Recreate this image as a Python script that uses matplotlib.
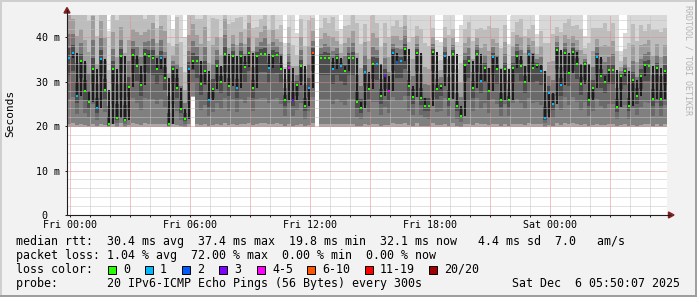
import numpy as np
import matplotlib
matplotlib.use("Agg")
import matplotlib.pyplot as plt
from matplotlib.patches import Rectangle, Polygon
from matplotlib.lines import Line2D

plt.rcParams["lines.scale_dashes"] = False
nan = float("nan")

# ---------------- data ----------------
step_minutes = 12            # one column = 12 minutes, 150 columns = 30 h (Thu 23:50 .. Sat 05:50)

median_ms = [
    35.4, 36.5, 26.9, 34.6, 27.9, 25.4, 32.8, 24.0, 35.2, 28.1,
    20.4, 32.8, 21.9, 35.9, 21.5, 28.8, 36.1, 33.5, 29.2, 36.3,
    35.8, 35.4, 32.8, 35.4, 30.9, 20.4, 32.8, 28.6, 23.9, 21.6,
    32.8, 34.6, 34.6, 29.4, 32.4, 25.8, 28.4, 33.5, 29.9, 36.3,
    29.0, 35.8, 28.5, 35.8, 33.3, 36.5, 28.6, 35.8, 36.3, 36.3,
    33.1, 35.8, 36.0, 32.9, 26.0, 33.1, 26.0, 29.2, 33.5, 24.5,
    28.7, 36.5, nan, 35.4, 35.4, 35.4, 32.8, 35.4, 33.5, 32.4,
    35.4, 35.4, 25.4, 24.1, 32.2, 28.3, 34.1, 34.0, 26.8, 31.3,
    28.0, 36.5, 34.4, 34.6, 37.3, 29.0, 26.6, 36.5, 26.4, 24.5,
    24.5, 36.7, 28.3, 29.0, 35.9, 26.2, 36.3, 24.5, 22.4, 33.7,
    34.6, 28.6, 36.3, 30.1, 33.1, 28.0, 35.5, 32.8, 25.8, 32.8,
    25.8, 33.1, 35.8, 33.5, 29.9, 36.3, 33.1, 33.7, 32.4, 21.9,
    27.5, 25.0, 37.1, 29.2, 36.5, 32.0, 36.7, 34.1, 29.4, 33.9,
    26.0, 28.6, 35.5, 31.4, 29.9, 32.6, 32.6, 24.3, 31.3, 32.4,
    24.5, 30.4, 26.8, 31.3, 33.7, 33.5, 26.2, 33.1, 26.2, 32.4,
]

# largest ping of each column (values above ~45 run off the top of the chart)
max_ms = [
    62, 58, 64, 55, 60, 57, 66, 52, 59, 61,
    41.5, 56, 60, 54, 63, 58, 52, 55, 61, 50,
    53, 57, 49, 55, 60, 52, 41.8, 56, 50, 40.0,
    54, 58, 51, 55, 60, 49, 56, 52, 47, 58,
    53, 49, 56, 51, 48, 55, 52, 47, 50, 54,
    48, 52, 46, 50, 38.8, 49, 47, 41.0, 52, 48,
    55, 50, nan, 47, 51, 49, 53, 46, 42.0, 50,
    48, 52, 56, 49, 51, 47, 53, 50, 46, 52,
    49, 47, 51, 48, 52, 46, 50, 47, 53, 49,
    48, 46, 39.5, 39.0, 47, 51, 46, 39.0, 42.8, 48,
    50, 47, 46, 51, 48, 53, 47, 49, 46, 50,
    38.5, 47, 49, 52, 48, 46, 50, 40.7, 48, 51,
    47, 52, 46, 50, 48, 53, 47, 49, 51, 40.3,
    48, 52, 47, 50, 53, 48, 51, 46, 37.0, 41.0,
    49, 52, 48, 51, 47, 50, 53, 48, 52, 49,
]

# smallest ping of each column
min_ms = [
    19.8, 19.8, 19.9, 19.8, 19.8, 19.8, 19.9, 19.8, 19.8, 19.8,
    19.8, 19.8, 19.8, 19.9, 19.8, 19.8, 19.8, 19.8, 19.9, 19.8,
    19.8, 19.8, 19.8, 19.8, 19.9, 19.8, 19.8, 19.8, 19.8, 19.8,
    19.8, 26.5, 19.8, 19.8, 19.8, 19.8, 19.9, 19.8, 19.8, 19.8,
    19.8, 19.8, 19.8, 19.8, 19.9, 19.8, 19.8, 19.8, 19.8, 19.8,
    19.8, 19.8, 19.9, 19.8, 19.8, 19.8, 19.8, 19.8, 19.8, 19.8,
    19.8, 19.8, nan, 19.8, 19.8, 19.8, 19.8, 19.8, 19.9, 19.8,
    19.8, 19.8, 19.8, 19.8, 19.8, 19.8, 19.8, 19.9, 19.8, 19.8,
    19.8, 19.8, 19.8, 19.8, 19.8, 19.8, 19.8, 19.8, 19.8, 19.9,
    19.8, 19.8, 19.8, 19.8, 19.8, 19.8, 19.8, 19.8, 19.8, 19.8,
    19.8, 19.8, 19.8, 19.9, 19.8, 19.8, 19.8, 19.8, 19.8, 19.8,
    19.8, 19.8, 19.8, 19.8, 19.8, 19.8, 19.8, 19.8, 19.8, 19.8,
    19.9, 19.8, 19.8, 19.8, 19.8, 19.8, 19.8, 19.8, 19.8, 19.8,
    19.8, 19.8, 19.8, 19.8, 19.8, 19.8, 19.8, 19.8, 19.8, 19.8,
    19.8, 19.8, 19.8, 19.8, 19.8, 19.8, 19.8, 19.8, 19.8, 19.8,
]

# loss class of each column (index into loss_labels)
loss_class = [
    1, 1, 1, 0, 0, 0, 0, 1, 1, 0,
    0, 0, 0, 0, 0, 0, 0, 0, 0, 0,
    0, 0, 0, 1, 0, 0, 0, 0, 0, 0,
    1, 0, 0, 0, 0, 1, 0, 0, 0, 0,
    0, 0, 1, 0, 0, 0, 0, 0, 0, 0,
    1, 0, 0, 0, 0, 4, 3, 0, 0, 0,
    1, 5, 0, 0, 0, 0, 1, 0, 1, 0,
    0, 0, 0, 0, 1, 0, 0, 1, 0, 3,
    4, 1, 2, 1, 0, 0, 0, 0, 0, 0,
    0, 0, 0, 0, 1, 0, 0, 0, 0, 0,
    0, 0, 0, 1, 0, 0, 1, 0, 0, 0,
    0, 0, 0, 0, 0, 1, 0, 0, 1, 1,
    1, 1, 0, 1, 0, 0, 0, 0, 0, 0,
    0, 0, 1, 0, 0, 0, 0, 0, 0, 0,
    0, 0, 0, 0, 0, 0, 0, 0, 0, 0,
]

loss_labels = ["0", "1", "2", "3", "4-5", "6-10", "11-19", "20/20"]
loss_colors = ["#26ff00", "#00b8ff", "#0059ff", "#7e00ff", "#ff00ff",
               "#ff5500", "#ff0000", "#a10000"]

y_ticks = [0, 10, 20, 30, 40]
y_tick_labels = ["0  ", "10 m", "20 m", "30 m", "40 m"]
x_label_text = ["Fri 00:00", "Fri 06:00", "Fri 12:00", "Fri 18:00", "Sat 00:00"]
first_midnight_h = 10 / 60      # Fri 00:00 is 10 minutes after the graph start

legend_lines = [
    "median rtt:  30.4 ms avg  37.4 ms max  19.8 ms min  32.1 ms now   4.4 ms sd  7.0   am/s",
    "packet loss: 1.04 % avg  72.00 % max  0.00 % min  0.00 % now",
]
probe_text = "probe:       20 IPv6-ICMP Echo Pings (56 Bytes) every 300s"
stamp_text = "Sat Dec  6 05:50:07 2025"

# ---------------- figure ----------------
W, H = 697, 297
BG = "#f2f2f2"
fig = plt.figure(figsize=(W / 100, H / 100), dpi=100, facecolor=BG)


def fx(px):
    return px / W


def fy(py):
    return 1 - py / H


MONO = "DejaVu Sans Mono"

ax = fig.add_axes([fx(67), fy(215), 600 / W, 200 / H])
ax.set_facecolor("white")
for s in ax.spines.values():
    s.set_visible(False)

med = np.array(median_ms, dtype=float)
top = np.array(max_ms, dtype=float)
low = np.array(min_ms, dtype=float)
loss = np.array(loss_class)
n = len(med)
step_h = step_minutes / 60.0
x0 = np.arange(n) * step_h
ok = ~np.isnan(med)

# smoke: shaded bands between min .. median .. max (lighter = further from median)
below = [(0.00, 0.05, "#a9a9a9"), (0.05, 0.40, "#808080"),
         (0.40, 0.75, "#6a6a6a"), (0.75, 1.00, "#4c4c4c")]
above = [(0.00, 0.08, "#4c4c4c"), (0.08, 0.20, "#777777"),
         (0.20, 0.36, "#9e9e9e"), (0.36, 0.58, "#bdbdbd"),
         (0.58, 1.00, "#d8d8d8")]
for a, b, c in below:
    lo = low + a * (med - low)
    hi = low + b * (med - low)
    ax.bar(x0[ok], (hi - lo)[ok], bottom=lo[ok], width=step_h, align="edge",
           color=c, linewidth=0, antialiased=False, zorder=1)
for a, b, c in above:
    lo = med + a * (top - med)
    hi = med + b * (top - med)
    ax.bar(x0[ok], (hi - lo)[ok], bottom=lo[ok], width=step_h, align="edge",
           color=c, linewidth=0, antialiased=False, zorder=1)

# dark core between successive medians
prev = np.concatenate([[med[0]], med[:-1]])
prev = np.where(np.isnan(prev), med, prev)
core_lo = np.minimum(prev, med)
core_hi = np.maximum(prev, med)
ax.bar((x0 + step_h * 0.5)[ok], (core_hi - core_lo)[ok], bottom=core_lo[ok],
       width=step_h * 0.5, align="center", color="#1c1c1c", linewidth=0,
       antialiased=False, zorder=1.5)

# median markers coloured by loss
xc = x0 + step_h / 2
cols = [loss_colors[k] for k in loss[ok]]
ax.hlines(med[ok], (xc - step_h * 0.36)[ok], (xc + step_h * 0.36)[ok],
          colors=cols, linewidth=1.5, zorder=5)

# axes scales, grid
ax.set_xlim(0, n * step_h)
ax.set_ylim(0, 200 / 4.44)
major_x = [first_midnight_h + 3 * k for k in range(10)]
minor_x = [first_midnight_h + k for k in range(30)]
ax.set_xticks(major_x)
ax.set_xticks(minor_x, minor=True)
lab = []
for k in range(10):
    lab.append(x_label_text[k // 2] if k % 2 == 0 else "")
ax.set_xticklabels(lab, fontfamily=MONO, fontsize=7.2)
ax.set_yticks(y_ticks)
ax.set_yticks(np.arange(0, 46, 2), minor=True)
ax.set_yticklabels(y_tick_labels, fontfamily=MONO, fontsize=7.2)
ax.tick_params(axis="both", which="both", direction="out", length=1.5,
               width=0.7, color="#1f1f1f")
ax.tick_params(axis="x", which="major", pad=2.2)
ax.tick_params(axis="y", which="major", pad=3.4)
ax.tick_params(axis="y", which="minor", length=0)
ax.set_axisbelow(False)
dot = (0, (0.72, 0.72))
ax.grid(True, which="minor", color="#c4c4c4", linestyle=dot, linewidth=0.72)
ax.grid(True, which="major", color="#e08a8a", linestyle=dot, linewidth=0.72)

# axis lines and arrows
fig.add_artist(Line2D([fx(67), fx(67)], [fy(215), fy(10)], color="#1f1f1f",
                      linewidth=0.8, transform=fig.transFigure))
fig.add_artist(Line2D([fx(67), fx(670)], [fy(215), fy(215)], color="#1f1f1f",
                      linewidth=0.8, transform=fig.transFigure))
arrow_col = "#801f1f"
fig.add_artist(Polygon([[fx(64), fy(13)], [fx(70), fy(13)], [fx(67), fy(7.5)]],
                       closed=True, color=arrow_col, transform=fig.transFigure))
fig.add_artist(Polygon([[fx(668.5), fy(212)], [fx(668.5), fy(218)], [fx(674), fy(215)]],
                       closed=True, color=arrow_col, transform=fig.transFigure))

# y label and watermark
fig.text(fx(10.5), fy(113.5), "Seconds", rotation=90, ha="center", va="center",
         fontfamily=MONO, fontsize=8, color="black")
fig.text(fx(688), fy(5), "RRDTOOL / TOBI OETIKER", rotation=270, ha="center",
         va="top", fontfamily=MONO, fontsize=6, color="#b4b4b4")

# legend text
legend_fs = 8.37
fig.text(fx(16), fy(241.5), legend_lines[0], ha="left", va="center",
         fontfamily=MONO, fontsize=legend_fs)
fig.text(fx(16), fy(255.5), legend_lines[1], ha="left", va="center",
         fontfamily=MONO, fontsize=legend_fs)
fig.text(fx(16), fy(269.5), "loss color:", ha="left", va="center",
         fontfamily=MONO, fontsize=legend_fs)
box_x = [108, 145, 182, 219, 257, 307, 365, 429]
for bx, lbl, col in zip(box_x, loss_labels, loss_colors):
    fig.add_artist(Rectangle((fx(bx), fy(273.5)), 8 / W, 8 / H, facecolor=col,
                             edgecolor="black", linewidth=0.7,
                             transform=fig.transFigure))
    fig.text(fx(bx + 15), fy(269.5), lbl, ha="left", va="center",
             fontfamily=MONO, fontsize=legend_fs)
fig.text(fx(16), fy(283.5), probe_text, ha="left", va="center",
         fontfamily=MONO, fontsize=legend_fs)
fig.text(fx(680), fy(283.5), stamp_text, ha="right", va="center",
         fontfamily=MONO, fontsize=legend_fs)

# 3-D frame
fig.add_artist(Rectangle((0, fy(2)), 1, 2 / H, facecolor="#cfcfcf", linewidth=0,
                         transform=fig.transFigure))
fig.add_artist(Rectangle((0, 0), 2 / W, 1, facecolor="#cfcfcf", linewidth=0,
                         transform=fig.transFigure))
fig.add_artist(Rectangle((0, 0), 1, 2 / H, facecolor="#9e9e9e", linewidth=0,
                         transform=fig.transFigure))
fig.add_artist(Rectangle((fx(695), 0), 2 / W, 1, facecolor="#9e9e9e", linewidth=0,
                         transform=fig.transFigure))

fig.savefig("out.png", dpi=100, facecolor=BG)
